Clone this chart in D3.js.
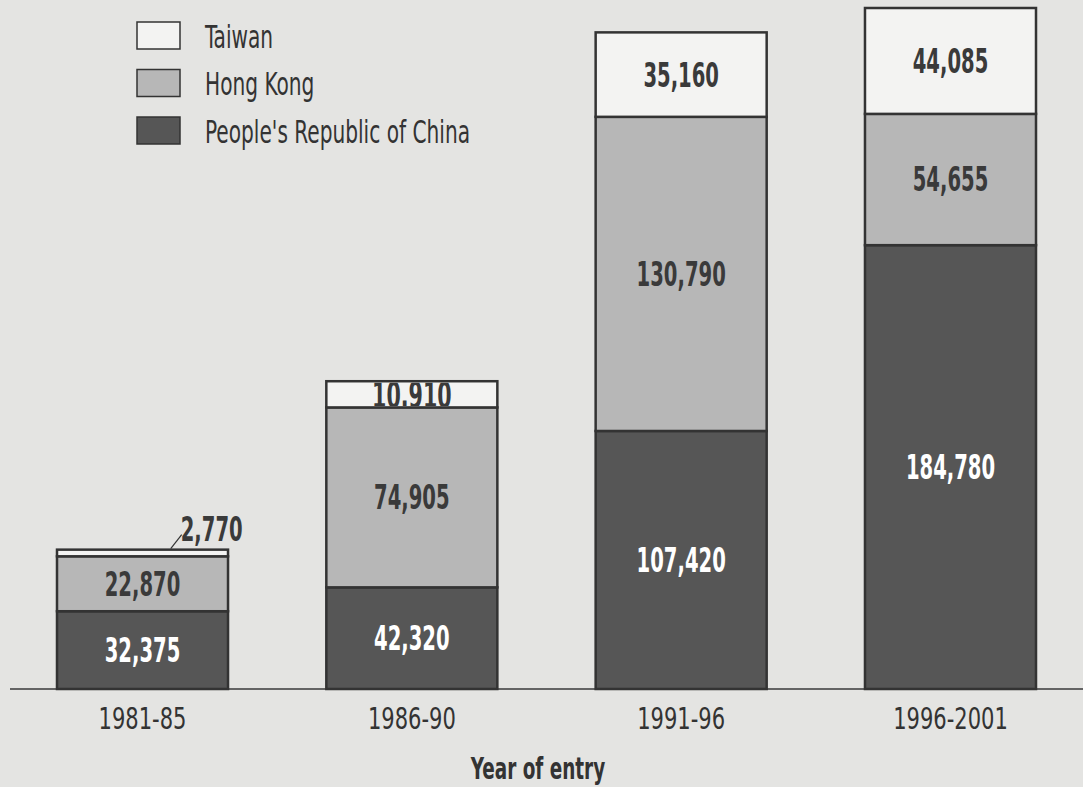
<!DOCTYPE html>
<html>
<head>
<meta charset="utf-8">
<script src="https://cdn.jsdelivr.net/npm/d3@7"></script>
<style>
  body { margin: 0; background: #e4e4e2; }
  svg { display: block; }
  text { font-family: "DejaVu Sans Condensed", "Liberation Sans Narrow", sans-serif; }
</style>
</head>
<body>
<div id="chart"></div>
<script>
// data
let periods = ["1981-85", "1986-90", "1991-96", "1996-2001"];
let seriesNames = ["People's Republic of China", "Hong Kong", "Taiwan"];
let prc = [32375, 42320, 107420, 184780];
let hongKong = [22870, 74905, 130790, 54655];
let taiwan = [2770, 10910, 35160, 44085];
let xTitle = "Year of entry";

let width = 1083,
    height = 787,
    baseY = 689;

let rows = periods.map(function(p, i) {
    return { period: p, "People's Republic of China": prc[i], "Hong Kong": hongKong[i], "Taiwan": taiwan[i] };
});

let layers = d3.stack().keys(seriesNames)(rows);

let x = d3.scaleBand()
    .domain(periods)
    .range([57, 1036])
    .paddingInner(0.365)
    .paddingOuter(0);

let y = d3.scaleLinear()
    .domain([0, d3.max(rows, function(d) { return d3.sum(seriesNames, function(k) { return d[k]; }); })])
    .range([baseY, 8]);

let color = d3.scaleOrdinal()
    .domain(seriesNames)
    .range(["#565656", "#b7b7b7", "#f3f3f2"]);

let labelColor = d3.scaleOrdinal()
    .domain(seriesNames)
    .range(["#ffffff", "#3a3a3a", "#3a3a3a"]);

let svg = d3.select("#chart")
    .append("svg")
    .attr("width", width)
    .attr("height", height);

// condensed text: draw at (tx,ty) and squeeze horizontally
function squeezed(sel, tx, ty, sx) {
    return sel.append("text")
        .attr("transform", "translate(" + tx + "," + ty + ") scale(" + sx + ",1)");
}

svg.append("line")
    .attr("x1", 10).attr("x2", width)
    .attr("y1", baseY).attr("y2", baseY)
    .attr("stroke", "#3a3a3a")
    .attr("stroke-width", 1.5);

let defs = svg.append("defs");
let segId = 0;

function segments(l) {
    return l.map(function(d) { return { key: l.key, y0: d[0], y1: d[1], period: d.data.period, value: d[1] - d[0] }; });
}

svg.append("g").attr("class", "bars")
    .selectAll("g")
    .data(layers)
    .enter().append("g")
    .selectAll("rect")
    .data(segments)
    .enter().append("rect")
    .attr("x", function(d) { return x(d.period); })
    .attr("y", function(d) { return y(d.y1); })
    .attr("width", x.bandwidth())
    .attr("height", function(d) { return y(d.y0) - y(d.y1); })
    .attr("fill", function(d) { return color(d.key); })
    .attr("stroke", "#333")
    .attr("stroke-width", 2.5);

// value labels
let fmt = d3.format(",");
svg.append("g").attr("class", "labels")
    .selectAll("g")
    .data(layers)
    .enter().append("g")
    .selectAll("g")
    .data(segments)
    .enter().append("g")
    .each(function(d) {
        let g = d3.select(this);
        let h = y(d.y0) - y(d.y1);
        let cx = x(d.period) + x.bandwidth() / 2;
        if (h < 15) {
            // too thin: label outside with a leader line
            let lx = x(d.period) + x.bandwidth() * 0.7;
            let ly = y(d.y1);
            g.append("line")
                .attr("x1", lx - 6).attr("y1", ly - 1)
                .attr("x2", lx + 5).attr("y2", ly - 15)
                .attr("stroke", "#333").attr("stroke-width", 1.2);
            squeezed(g, lx + 4, ly - 9, 0.66)
                .attr("font-size", 33)
                .attr("font-weight", "bold")
                .attr("fill", "#3a3a3a")
                .text(fmt(d.value));
            return;
        }
        let id = "clip" + (segId++);
        defs.append("clipPath").attr("id", id)
            .append("rect")
            .attr("x", x(d.period) + 1)
            .attr("y", y(d.y1) + 1.5)
            .attr("width", x.bandwidth() - 2)
            .attr("height", h - 3);
        let big = h < 40;
        g.attr("clip-path", "url(#" + id + ")");
        squeezed(g, cx, y(d.y1) + h / 2, big ? 0.62 : 0.66)
            .attr("dy", "0.36em")
            .attr("text-anchor", "middle")
            .attr("font-size", big ? 37 : 33)
            .attr("font-weight", "bold")
            .attr("fill", labelColor(d.key))
            .text(fmt(d.value));
    });

// x axis
let xAxis = d3.axisBottom(x).tickSize(0).tickPadding(0);
let ax = svg.append("g")
    .attr("transform", "translate(0," + baseY + ")")
    .call(xAxis);
ax.select(".domain").remove();
ax.selectAll(".tick text")
    .attr("y", 0)
    .attr("dy", 0)
    .attr("transform", "translate(0,40) scale(0.78,1)")
    .attr("font-size", 30)
    .attr("fill", "#333")
    .style("font-family", "'DejaVu Sans Condensed', sans-serif");

squeezed(svg, 538, 779, 0.66)
    .attr("text-anchor", "middle")
    .attr("font-size", 31)
    .attr("font-weight", "bold")
    .attr("fill", "#333")
    .text(xTitle);

// legend
let legendOrder = seriesNames.slice().reverse();
let legend = svg.append("g").attr("class", "legend")
    .attr("transform", "translate(137,22)");
let item = legend.selectAll("g")
    .data(legendOrder)
    .enter().append("g")
    .attr("transform", function(d, i) { return "translate(0," + (i * 47.5) + ")"; });
item.append("rect")
    .attr("width", 43).attr("height", 27)
    .attr("fill", function(d) { return color(d); })
    .attr("stroke", "#333").attr("stroke-width", 1.5);
item.append("text")
    .attr("transform", "translate(68,14) scale(0.7,1)")
    .attr("dy", "0.36em")
    .attr("font-size", 32)
    .attr("fill", "#333")
    .text(function(d) { return d; });
</script>
</body>
</html>
